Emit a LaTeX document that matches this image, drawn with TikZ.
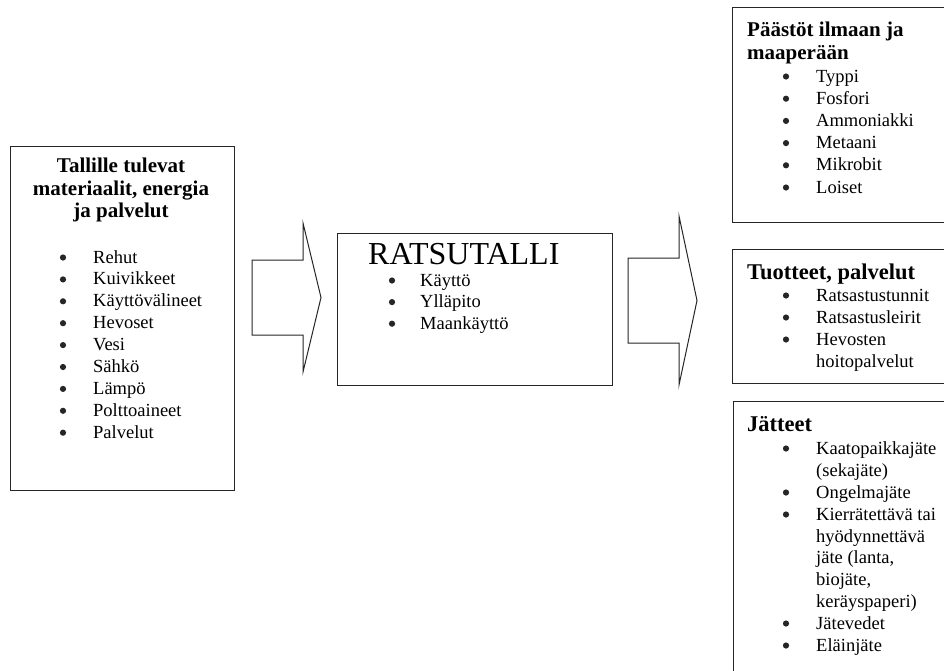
\documentclass[tikz,border=0pt]{standalone}
\usepackage{fontspec}
\setmainfont{Liberation Serif}
\begin{document}
\begin{tikzpicture}[x=1pt,y=-1pt,
  box/.style={draw=black!85, line width=1pt, inner sep=0pt, anchor=north west},
  blockarrow/.style={draw=black!85, line width=1pt, line join=miter},
  item/.style={anchor=base west, inner sep=0pt, font=\fontsize{18.5}{22}\selectfont},
  head/.style={anchor=base west, inner sep=0pt, font=\fontsize{21}{24}\selectfont\bfseries},
  bighead/.style={anchor=base west, inner sep=0pt, font=\fontsize{22.5}{26}\selectfont\bfseries},
  bul/.style={fill=black!85}
]
\useasboundingbox (0,0) rectangle (944,670);
\clip (0,0) rectangle (944,670);
\fill[white] (0,0) rectangle (944,670);

% boxes
\node[box, minimum width=224pt, minimum height=344pt] (inbox) at (10,146) {};
\node[box, minimum width=275pt, minimum height=152pt] (midbox) at (337,233) {};
\node[box, minimum width=230pt, minimum height=215pt] (emis) at (732,7) {};
\node[box, minimum width=230pt, minimum height=134pt] (prod) at (732,249) {};
\node[box, minimum width=230pt, minimum height=300pt] (waste) at (733,401) {};

% block arrows
\draw[blockarrow] (252,260) -- (303,260) -- (303,223) -- (321,297.5) -- (303,372) -- (303,335) -- (252,335) -- cycle;
\draw[blockarrow] (628,258) -- (679,258) -- (679,216) -- (697,300.5) -- (679,385) -- (679,343) -- (628,343) -- cycle;

% left box
\node[head, anchor=base] (t1) at (121,172.5) {Tallille tulevat};
\node[head, anchor=base] (t2) at (121,195) {materiaalit, energia};
\node[head, anchor=base] (t3) at (121,217.5) {ja palvelut};
\foreach \t [count=\i from 0] in {Rehut, Kuivikkeet, Käyttövälineet, Hevoset, Vesi, Sähkö, Lämpö, Polttoaineet, Palvelut} {
  \node[item] (li\i) at (93, 263+21.9*\i) {\t};
  \fill[bul] (63, 257.5+21.9*\i) circle (3.1pt);
}

% middle box
\node[anchor=base west, inner sep=0pt, font=\fontsize{32}{36}\selectfont] (rt) at (368,264) {RATSUTALLI};
\foreach \t [count=\i from 0] in {Käyttö, Ylläpito, Maankäyttö} {
  \node[item] (mi\i) at (420, 286+21.6*\i) {\t};
  \fill[bul] (392, 280.5+21.6*\i) circle (3.1pt);
}

% emissions box
\node[head] (e1) at (747,36) {Päästöt ilmaan ja};
\node[head] (e2) at (747,59) {maaperään};
\foreach \t [count=\i from 0] in {Typpi, Fosfori, Ammoniakki, Metaani, Mikrobit, Loiset} {
  \node[item] (ei\i) at (816, 82+22.2*\i) {\t};
  \fill[bul] (786, 76.5+22.2*\i) circle (3.1pt);
}

% products box
\node[bighead] (p1) at (747,279) {Tuotteet, palvelut};
\node[item] (pi0) at (816,301) {Ratsastustunnit};
\node[item] (pi1) at (816,323) {Ratsastusleirit};
\node[item] (pi2) at (816,345) {Hevosten};
\node[item] (pi3) at (816,367) {hoitopalvelut};
\foreach \y in {301,323,345} { \fill[bul] (786,\y-5.5) circle (3.1pt); }

% waste box
\node[bighead] (w1) at (747,431) {Jätteet};
\node[item] (wi0) at (816,454) {Kaatopaikkajäte};
\node[item] (wi1) at (816,476) {(sekajäte)};
\node[item] (wi2) at (816,498) {Ongelmajäte};
\node[item] (wi3) at (816,520) {Kierrätettävä tai};
\node[item] (wi4) at (816,542) {hyödynnettävä};
\node[item] (wi5) at (816,563.5) {jäte (lanta,};
\node[item] (wi6) at (816,585) {biojäte,};
\node[item] (wi7) at (816,607) {keräyspaperi)};
\node[item] (wi8) at (816,629) {Jätevedet};
\node[item] (wi9) at (816,651) {Eläinjäte};
\foreach \y in {454,498,520,629,651} { \fill[bul] (786,\y-5.5) circle (3.1pt); }
\end{tikzpicture}
\end{document}
